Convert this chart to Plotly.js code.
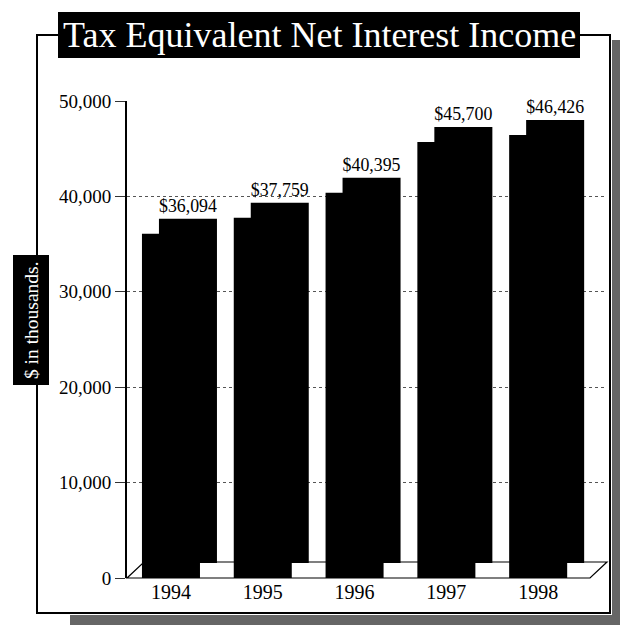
<!DOCTYPE html>
<html>
<head>
<meta charset="utf-8">
<script src="https://cdn.plot.ly/plotly-3.0.1.min.js"></script>
<style>html,body{margin:0;padding:0;background:#fff;}</style>
</head>
<body>
<div id="chart" style="width:620px;height:625px;"></div>
<script>
const years = ['1994', '1995', '1996', '1997', '1998'];
const income = [36094, 37759, 40395, 45700, 46426];
const valueLabels = ['$36,094', '$37,759', '$40,395', '$45,700', '$46,426'];
const yTicks = [0, 10000, 20000, 30000, 40000, 50000];
const yTickText = ['0', '10,000', '20,000', '30,000', '40,000', '50,000'];

const idx = years.map((_, i) => i);
const depthY = 1572; // 3D depth offset in value units (~15px)
const serif = 'Liberation Serif, Times New Roman, serif';

// pixel -> paper helpers for decorations
const W = 478, H = 477, L = 127, B = 578;
const PX = p => (p - L) / W;
const PY = p => (B - p) / H;

const back = {
  type: 'bar', x: idx, y: income, base: idx.map(() => depthY),
  width: 0.632, offset: -0.131,
  marker: {color: '#000', line: {width: 0}},
  text: valueLabels, textposition: 'outside', cliponaxis: false,
  textfont: {family: serif, size: 18, color: '#000'},
  hoverinfo: 'skip'
};
const front = {
  type: 'bar', x: idx, y: income,
  width: 0.632,
  marker: {color: '#000', line: {width: 0}},
  hoverinfo: 'skip'
};

const floorPath = `M ${PX(127)} ${PY(578)} L ${PX(590)} ${PY(578)} L ${PX(607)} ${PY(562)} L ${PX(144)} ${PY(562)} Z`;
const framePath = `M ${PX(58)} ${PY(35)} L ${PX(37)} ${PY(35)} L ${PX(37)} ${PY(613)} L ${PX(610)} ${PY(613)} L ${PX(610)} ${PY(35)} L ${PX(580)} ${PY(35)}`;

const layout = {
  width: 620, height: 625,
  margin: {l: 127, r: 15, t: 101, b: 47, pad: 0},
  paper_bgcolor: '#fff', plot_bgcolor: '#fff',
  showlegend: false,
  barmode: 'overlay',
  font: {family: serif, color: '#000'},
  xaxis: {
    range: [-0.479, 4.728],
    tickvals: idx, ticktext: years,
    showgrid: false, zeroline: false, showline: false,
    ticks: '', tickfont: {family: serif, size: 20, color: '#000'},
    fixedrange: true
  },
  yaxis: {
    range: [0, 50000],
    tickvals: yTicks, ticktext: yTickText,
    showgrid: true, gridcolor: '#555', griddash: 'dot', gridwidth: 1,
    zeroline: false,
    showline: true, linecolor: '#000', linewidth: 2,
    ticks: 'outside', ticklen: 10, tickcolor: '#333', tickwidth: 1,
    tickfont: {family: serif, size: 19, color: '#000'},
    fixedrange: true
  },
  shapes: [
    {type: 'path', path: floorPath, xref: 'paper', yref: 'paper', layer: 'below',
     fillcolor: '#fff', line: {color: '#000', width: 1.2}},
    {type: 'path', path: framePath, xref: 'paper', yref: 'paper',
     line: {color: '#000', width: 2}},
    {type: 'rect', xref: 'paper', yref: 'paper',
     x0: PX(58), x1: PX(580), y0: PY(12), y1: PY(58),
     fillcolor: '#000', line: {width: 0}},
    {type: 'rect', xref: 'paper', yref: 'paper',
     x0: PX(13), x1: PX(49), y0: PY(255), y1: PY(385),
     fillcolor: '#000', line: {width: 0}},
    {type: 'rect', xref: 'paper', yref: 'paper',
     x0: PX(612), x1: PX(620), y0: PY(40), y1: PY(625),
     fillcolor: '#666', line: {width: 0}},
    {type: 'rect', xref: 'paper', yref: 'paper',
     x0: PX(70), x1: PX(620), y0: PY(615), y1: PY(625),
     fillcolor: '#666', line: {width: 0}}
  ],
  annotations: [
    {text: 'Tax Equivalent Net Interest Income', xref: 'paper', yref: 'paper',
     x: PX(319), y: PY(35), xanchor: 'center', yanchor: 'middle', showarrow: false,
     font: {family: serif, size: 36, color: '#fff'}},
    {text: '$ in thousands.', xref: 'paper', yref: 'paper',
     x: PX(31), y: PY(320), xanchor: 'center', yanchor: 'middle', showarrow: false,
     textangle: -90, font: {family: serif, size: 19.5, color: '#fff'}}
  ]
};

Plotly.newPlot('chart', [back, front], layout, {displayModeBar: false, staticPlot: true});
</script>
</body>
</html>
